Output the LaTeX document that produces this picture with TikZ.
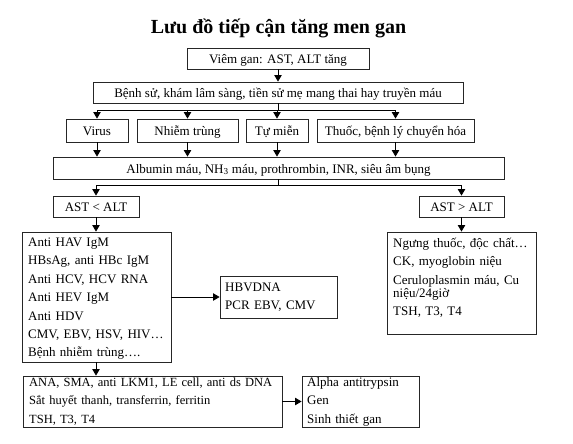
\documentclass[tikz,border=0pt]{standalone}
\usepackage{fontspec}
\setmainfont{Liberation Serif}
\usetikzlibrary{arrows.meta}
\begin{document}
\begin{tikzpicture}[x=1pt,y=-1pt,
  box/.style={draw=black!85,line width=0.9pt,inner sep=0pt,text height=11pt,text depth=1pt,font=\fontsize{13}{15}\selectfont},
  tbox/.style={draw=black!85,line width=0.9pt,inner sep=0pt},
  txt/.style={anchor=base west,inner sep=0pt,align=left,text width=320,font=\fontsize{13}{18.4}\selectfont},
  conn/.style={line width=0.8pt},
  arr/.style={line width=0.8pt,-{Triangle[length=6.5pt,width=7.5pt]}}]
\useasboundingbox[fill=white] (0,0) rectangle (573,444);
\node[anchor=base,inner sep=0pt,font=\fontsize{20}{22}\selectfont\bfseries] (title) at (278.5,33.5) {Lưu đồ tiếp cận tăng men gan};
% boxes
\node[box,minimum width=182,minimum height=21] (b1) at (278,58.5) {Viêm gan: AST, ALT tăng};
\node[box,minimum width=370,minimum height=21] (b2) at (278,92.5) {Bệnh sử, khám lâm sàng, tiền sử mẹ mang thai hay truyền máu};
\node[box,minimum width=62,minimum height=23] (virus) at (97,130.5) {Virus};
\node[box,minimum width=101,minimum height=23] (nt) at (187.5,130.5) {Nhiễm trùng};
\node[box,minimum width=62,minimum height=23] (tm) at (277,130.5) {Tự miễn};
\node[box,minimum width=157,minimum height=23] (thuoc) at (395.5,130.5) {Thuốc, bệnh lý chuyển hóa};
\node[box,minimum width=451,minimum height=22] (alb) at (278.5,168) {Albumin máu, NH\textsubscript{3} máu, prothrombin, INR, siêu âm bụng};
\node[box,minimum width=86,minimum height=21] (lt) at (96,206.5) {AST < ALT};
\node[box,minimum width=85,minimum height=21] (gt) at (461.5,206.5) {AST > ALT};
\node[tbox,minimum width=149,minimum height=130] (L1) at (96.5,297) {};
\node[tbox,minimum width=117,minimum height=42] (hbv) at (278.5,297) {};
\node[tbox,minimum width=149,minimum height=102] (R1) at (461.5,283) {};
\node[tbox,minimum width=259,minimum height=51] (bl) at (152.5,401.5) {};
\node[tbox,minimum width=117,minimum height=51] (br) at (360.5,401.5) {};
% box texts
\node[txt] (L1t) at (28,246.5) {Anti HAV IgM\\HBsAg, anti HBc IgM\\Anti HCV, HCV RNA\\Anti HEV IgM\\Anti HDV\\CMV, EBV, HSV, HIV…\\Bệnh nhiễm trùng….};
\node[txt] (hbvt) at (225,291.5) {HBVDNA\\PCR EBV, CMV};
\node[txt] (R1t) at (393,247.5) {Ngưng thuốc, độc chất…\\CK, myoglobin niệu\\Ceruloplasmin máu, Cu\\[-5.4pt]niệu/24giờ\\TSH, T3, T4};
\node[txt,font=\fontsize{12.5}{18.4}\selectfont] (blt) at (29,386.5) {ANA, SMA, anti LKM1, LE cell, anti ds DNA\\Sắt huyết thanh, transferrin, ferritin\\TSH, T3, T4};
\node[txt] (brt) at (307,386.5) {Alpha antitrypsin\\Gen\\Sinh thiết gan};
% connectors
\draw[arr] (b1.south) -- (b2.north);
\coordinate (bus1) at (278,110);
\draw[conn] (b2.south) -- (bus1);
\draw[conn] (virus.north |- bus1) -- (thuoc.north |- bus1);
\foreach \n in {virus,nt,tm,thuoc}{
  \draw[arr] (\n.north |- bus1) -- (\n.north);
  \draw[arr] (\n.south) -- (\n.south |- alb.north);
}
\coordinate (bus2) at (278.5,185);
\draw[conn] (alb.south) -- (bus2);
\draw[conn] (lt.north |- bus2) -- (gt.north |- bus2);
\draw[arr] (lt.north |- bus2) -- (lt.north);
\draw[arr] (gt.north |- bus2) -- (gt.north);
\draw[arr] (lt.south) -- (lt.south |- L1.north);
\draw[arr] (gt.south) -- (gt.south |- R1.north);
\draw[arr] (L1.east) -- (hbv.west);
\draw[arr] (lt.south |- L1.south) -- (lt.south |- bl.north);
\draw[arr] (bl.east) -- (br.west);
\end{tikzpicture}
\end{document}
